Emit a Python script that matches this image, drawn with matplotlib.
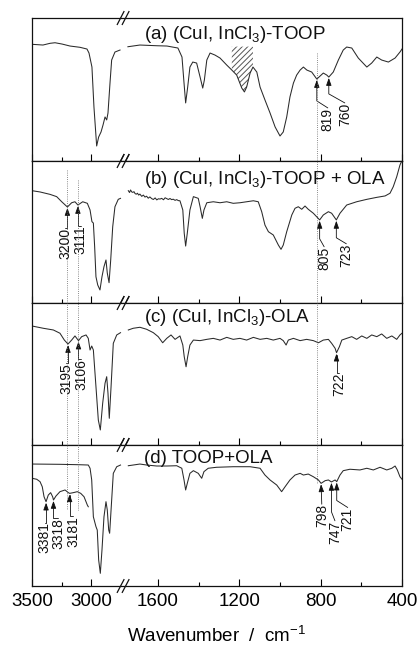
import numpy as np
import matplotlib
matplotlib.use("Agg")
import matplotlib.pyplot as plt
import matplotlib.transforms as mtransforms
from matplotlib.lines import Line2D
from matplotlib.ticker import FixedLocator, FixedFormatter, NullFormatter

plt.rcParams['font.family'] = ['Liberation Sans', 'DejaVu Sans']
plt.rcParams['mathtext.fontset'] = 'custom'
plt.rcParams['mathtext.rm'] = 'Liberation Sans'
plt.rcParams['hatch.linewidth'] = 0.7

# ---------------- spectra (wavenumber in cm-1, transmittance in a.u.) ----------------
# (a) (CuI, InCl3)-TOOP
A_HI_W = [3500, 3407, 3347, 3305, 3246, 3178, 3093, 3034, 3017, 2992, 2975, 2952, 2935,
          2915, 2898, 2881, 2867, 2856, 2839, 2825, 2797, 2754]
A_HI_T = [81.6, 81.1, 82.3, 82.7, 81.8, 80.4, 79.5, 78.3, 75.5, 65.7, 37.8, 10.5, 16.8,
          20.3, 25.2, 30.8, 28.7, 33.6, 54.5, 70.6, 76.2, 77.6]
A_LO_W = [1748, 1689, 1605, 1556, 1502, 1482, 1472, 1464, 1454, 1443, 1429, 1410, 1393,
          1380, 1372, 1360, 1344, 1320, 1295, 1262, 1237, 1213, 1188, 1175, 1164, 1147,
          1133, 1114, 1098, 1074, 1049, 1024, 1000, 984, 967, 951, 934, 918, 901, 885,
          868, 844, 819, 787, 770, 760, 738, 713, 689, 672, 647, 615, 573, 549, 524,
          500, 467, 434, 410, 400]
A_LO_T = [79.9, 81.1, 80.6, 80.4, 79.0, 72.7, 54.5, 40.6, 51.7, 65.7, 69.2, 68.5, 58.7,
          51.0, 56.6, 70.6, 75.5, 74.1, 72.0, 67.1, 63.6, 60.1, 51.0, 48.3, 51.7, 61.5,
          65.7, 62.2, 51.7, 42.7, 33.6, 23.8, 17.5, 20.3, 30.8, 44.8, 54.5, 60.1, 63.6,
          65.7, 63.6, 62.2, 57.3, 61.5, 60.1, 58.7, 62.2, 70.6, 77.6, 79.7, 79.0, 72.0,
          65.7, 68.5, 72.7, 70.6, 69.2, 72.0, 76.2, 78.3]
A_HATCH_RANGE = (1237, 1133)
A_HATCH_TOP = 80.0

# (b) (CuI, InCl3)-TOOP + OLA
B_HI_W = [3500, 3432, 3347, 3291, 3248, 3200, 3164, 3136, 3111, 3070, 3031, 3008, 2992,
          2980, 2969, 2958, 2943, 2924, 2907, 2890, 2873, 2862, 2847, 2833, 2816, 2797,
          2769, 2748]
B_HI_T = [79.1, 78.2, 76.5, 74.9, 71.3, 67.6, 70.6, 71.3, 69.0, 71.3, 70.2, 65.5, 57.3,
          56.3, 39.6, 18.5, 12.7, 9.2, 18.5, 25.6, 30.3, 21.1, 14.3, 30.3, 53.7, 67.8,
          73.0, 73.7]
B_LO_W = [1746, 1740, 1735, 1729, 1724, 1718, 1713, 1707, 1701, 1695, 1689, 1680, 1672,
          1664, 1656, 1648, 1640, 1631, 1623, 1614, 1606, 1598, 1590, 1582, 1573, 1565,
          1557, 1549, 1541, 1533, 1525, 1516, 1508, 1500, 1492, 1478, 1471, 1464, 1456,
          1443, 1426, 1402, 1393, 1382, 1374, 1360, 1328, 1295, 1262, 1230, 1197, 1164,
          1131, 1107, 1090, 1074, 1057, 1033, 1008, 995, 984, 967, 942, 926, 910, 893,
          877, 861, 836, 805, 787, 762, 746, 723, 705, 672, 623, 573, 524, 483, 459, 443,
          426, 410, 401]
B_LO_T = [79.1, 77.8, 79.6, 78.2, 77.9, 78.4, 77.1, 76.6, 77.3, 76.0, 76.7, 75.1, 76.0,
          74.6, 75.2, 73.8, 74.7, 73.5, 72.9, 74.0, 72.6, 73.4, 73.2, 73.7, 72.7, 74.1,
          73.5, 72.9, 73.6, 72.8, 73.1, 72.3, 72.8, 72.1, 72.0, 65.5, 49.1, 40.1, 49.1,
          65.5, 74.9, 73.7, 67.8, 59.6, 65.5, 70.6, 71.3, 70.6, 71.3, 70.2, 70.6, 71.3,
          72.0, 71.3, 64.3, 54.9, 50.2, 47.9, 40.8, 37.8, 40.8, 50.2, 62.0, 66.7, 67.8,
          66.0, 68.3, 66.0, 63.2, 58.5, 62.0, 64.3, 63.2, 58.5, 63.2, 69.0, 71.3, 73.0,
          74.4, 75.4, 77.3, 81.9, 88.9, 97.2, 100.0]

# (c) (CuI, InCl3)-OLA
C_HI_W = [3500, 3404, 3319, 3263, 3226, 3195, 3164, 3136, 3106, 3079, 3042, 3023, 3008,
          2994, 2980, 2958, 2938, 2921, 2901, 2881, 2867, 2856, 2845, 2830, 2811, 2782,
          2748]
C_HI_T = [83.8, 82.2, 81.0, 78.7, 73.9, 71.1, 73.9, 76.8, 73.5, 76.3, 77.5, 75.1, 66.9,
          69.7, 66.9, 41.1, 17.6, 10.6, 29.4, 43.5, 48.1, 36.4, 18.8, 41.1, 71.6, 77.5,
          79.1]
C_LO_W = [1746, 1722, 1689, 1656, 1623, 1599, 1577, 1557, 1536, 1516, 1492, 1478, 1471,
          1462, 1454, 1443, 1426, 1393, 1360, 1328, 1295, 1262, 1230, 1197, 1164, 1131,
          1098, 1065, 1033, 1000, 984, 970, 959, 934, 901, 869, 836, 811, 787, 762, 746,
          729, 722, 708, 696, 672, 647, 623, 598, 573, 549, 524, 500, 475, 450, 426, 410,
          400]
C_LO_T = [81.0, 82.2, 82.9, 81.5, 79.1, 76.3, 72.0, 75.1, 77.5, 74.4, 76.8, 70.4, 62.2,
          55.1, 62.2, 70.4, 73.9, 73.5, 74.4, 75.1, 73.9, 75.8, 74.4, 75.1, 73.9, 75.8,
          74.4, 75.1, 73.9, 75.1, 73.5, 70.4, 73.9, 75.1, 73.5, 74.4, 73.5, 72.0, 73.9,
          74.4, 71.6, 68.1, 65.0, 69.2, 73.9, 75.1, 76.3, 74.4, 76.8, 75.1, 77.5, 76.3,
          78.2, 75.1, 76.8, 74.4, 77.5, 78.7]

# (d) TOOP+OLA  (second trace: shifted high-wavenumber region)
D_HI_W = [3500, 3263, 3093, 3023, 3008, 2994, 2980, 2958, 2947, 2935, 2921, 2907, 2890,
          2873, 2862, 2850, 2842, 2830, 2811, 2782, 2748]
D_HI_T = [86.5, 86.3, 86.0, 85.8, 83.5, 75.2, 49.1, 42.1, 39.7, 18.4, 9.0, 25.5, 49.1,
          59.8, 53.9, 39.7, 37.4, 53.9, 79.9, 84.6, 85.8]
D_NH_W = [3500, 3460, 3432, 3413, 3398, 3381, 3362, 3342, 3325, 3318, 3297, 3263, 3220,
          3192, 3181, 3150, 3116, 3087, 3059, 3031, 3023]
D_NH_T = [76.4, 75.7, 74.0, 70.4, 63.3, 59.8, 64.5, 66.2, 63.3, 61.0, 63.8, 66.9, 68.1,
          66.2, 65.7, 66.2, 66.9, 65.7, 63.3, 57.4, 56.2]
D_LO_W = [1746, 1722, 1689, 1656, 1606, 1557, 1508, 1483, 1472, 1464, 1456, 1443, 1426,
          1402, 1393, 1385, 1374, 1353, 1312, 1230, 1147, 1098, 1074, 1049, 1016, 992,
          975, 951, 926, 901, 885, 861, 836, 811, 798, 778, 762, 747, 729, 721, 705, 689,
          656, 607, 573, 541, 508, 475, 450, 434, 423, 410, 400]
D_LO_T = [85.3, 85.8, 86.5, 85.8, 85.1, 85.1, 85.3, 83.5, 75.2, 68.1, 72.8, 79.9, 81.8,
          79.9, 78.0, 76.4, 81.1, 83.5, 84.2, 84.6, 84.6, 83.5, 78.7, 75.2, 71.6, 66.9,
          70.4, 75.2, 78.7, 79.9, 78.7, 79.4, 77.5, 75.2, 72.8, 74.7, 75.2, 73.8, 75.2,
          74.0, 78.7, 81.8, 82.8, 82.3, 83.5, 82.3, 84.2, 82.3, 83.5, 85.1, 82.3, 77.5,
          75.7]

PANEL_LABELS = ["(a) (CuI, InCl$_\\mathregular{3}$)-TOOP",
                "(b) (CuI, InCl$_\\mathregular{3}$)-TOOP + OLA",
                "(c) (CuI, InCl$_\\mathregular{3}$)-OLA",
                "(d) TOOP+OLA"]

# peak labels: (text, wavenumber, which trace, dx, text depth, corner depth) in pixels
PEAKS_A = [("819", 819, "lo", 11, 28, 21), ("760", 760, "lo", 16, 25, 16)]
PEAKS_B = [("3200", 3200, "hi", -2, 20, 20), ("3111", 3111, "hi", 3, 20, 20),
           ("805", 805, "lo", 4.5, 26, 18), ("723", 723, "lo", 10, 23, 17)]
PEAKS_C = [("3195", 3195, "hi", -1.5, 18, 18), ("3106", 3106, "hi", 3, 18, 18),
           ("722", 722, "lo", 2.5, 19, 19)]
PEAKS_D = [("3381", 3381, "nh", -1.5, 20, 20), ("3318", 3318, "nh", 4.5, 17, 17),
           ("3181", 3181, "nh", 3.5, 22, 22), ("798", 798, "lo", 0.7, 20, 20),
           ("747", 747, "lo", 3.5, 38, 29), ("721", 721, "lo", 11, 25, 18)]

# reference lines: (wavenumber, top px, bottom px)
GUIDES = [(3200, 170, 510), (3111, 180, 510), (819, 53, 483)]

MAJOR_TICKS = [3500, 3000, 1600, 1200, 800, 400]
MINOR_TICKS = [3250, 1400, 1000, 600]

# ---------------- broken wavenumber axis ----------------
BRK_W = [400.0, 1750.0, 2750.0, 3500.0]
BRK_P = [0.0, 274.5, 281.5, 370.0]
S_R = (BRK_P[1] - BRK_P[0]) / (BRK_W[1] - BRK_W[0])
S_L = (BRK_P[3] - BRK_P[2]) / (BRK_W[3] - BRK_W[2])


def fwd(w):
    w = np.asarray(w, dtype=float)
    out = np.interp(w, BRK_W, BRK_P)
    out = np.where(w < BRK_W[0], BRK_P[0] + (w - BRK_W[0]) * S_R, out)
    out = np.where(w > BRK_W[-1], BRK_P[-1] + (w - BRK_W[-1]) * S_L, out)
    return out


def inv(p):
    p = np.asarray(p, dtype=float)
    out = np.interp(p, BRK_P, BRK_W)
    out = np.where(p < BRK_P[0], BRK_W[0] + (p - BRK_P[0]) / S_R, out)
    out = np.where(p > BRK_P[-1], BRK_W[-1] + (p - BRK_P[-1]) / S_L, out)
    return out


W, H = 419, 648
fig = plt.figure(figsize=(W / 100, H / 100), dpi=100)
LINE = '#2a2a2a'

panels = [
    dict(lab=PANEL_LABELS[0], top=18, bot=161, lab_y=0.850,
         traces={"hi": (A_HI_W, A_HI_T), "lo": (A_LO_W, A_LO_T)}, peaks=PEAKS_A),
    dict(lab=PANEL_LABELS[1], top=161, bot=303, lab_y=0.838,
         traces={"hi": (B_HI_W, B_HI_T), "lo": (B_LO_W, B_LO_T)}, peaks=PEAKS_B),
    dict(lab=PANEL_LABELS[2], top=303, bot=445, lab_y=0.868,
         traces={"hi": (C_HI_W, C_HI_T), "lo": (C_LO_W, C_LO_T)}, peaks=PEAKS_C),
    dict(lab=PANEL_LABELS[3], top=445, bot=586, lab_y=0.870,
         traces={"hi": (D_HI_W, D_HI_T), "nh": (D_NH_W, D_NH_T), "lo": (D_LO_W, D_LO_T)},
         peaks=PEAKS_D),
]

X0, X1 = 32, 402
axes = []
for i, pn in enumerate(panels):
    ax = fig.add_axes([X0 / W, 1 - pn["bot"] / H, (X1 - X0) / W, (pn["bot"] - pn["top"]) / H])
    ax.set_xscale('function', functions=(fwd, inv))
    ax.set_xlim(3500, 400)
    ax.set_ylim(0, 100)
    for key, (wx, ty) in pn["traces"].items():
        ax.plot(wx, ty, color=LINE, lw=0.75, solid_joinstyle='round')
    ax.xaxis.set_major_locator(FixedLocator(MAJOR_TICKS))
    ax.xaxis.set_minor_locator(FixedLocator(MINOR_TICKS))
    ax.xaxis.set_minor_formatter(NullFormatter())
    last = i == len(panels) - 1
    if last:
        ax.xaxis.set_major_formatter(FixedFormatter([str(t) for t in MAJOR_TICKS]))
    ax.tick_params(axis='x', which='both', direction='in', top=False, bottom=True,
                   labelbottom=last, labelsize=13.5, pad=5, width=0.8)
    ax.tick_params(axis='x', which='major', length=5)
    ax.tick_params(axis='x', which='minor', length=3)
    ax.tick_params(axis='y', left=False, labelleft=False)
    for s in ax.spines.values():
        s.set_linewidth(0.9)
        s.set_color('#111111')
    ax.text(0.303, pn["lab_y"], pn["lab"], transform=ax.transAxes, fontsize=13.5,
            ha='left', va='baseline', color='#111111')

    # break marks on the bottom and top spines
    for yb in (0.0, 1.0):
        for xc in (0.2395, 0.2530):
            ax.plot([xc - 0.009, xc + 0.009], [yb - 0.045, yb + 0.045], color='#111111',
                    lw=0.9, transform=ax.transAxes, clip_on=False)

    # peak markers
    for txt, wpk, key, dx, tdep, cdep in pn["peaks"]:
        wx, ty = pn["traces"][key]
        yv = np.interp(wpk, wx[::-1], ty[::-1]) - 0.6
        if abs(tdep - cdep) < 0.5:
            angA = 180 if dx >= 0 else 0
        else:
            angA = np.degrees(np.arctan2(tdep - cdep, -dx))
        if abs(dx) < 1.0:
            conn = "arc3,rad=0"
        else:
            conn = f"angle,angleA={angA:.1f},angleB=90,rad=0"
        ax.annotate(txt, xy=(wpk, yv), xytext=(dx, -tdep), textcoords='offset pixels',
                    rotation=90, ha='center', va='top', fontsize=10, color='#111111',
                    arrowprops=dict(arrowstyle='-|>,head_length=0.45,head_width=0.16',
                                    connectionstyle=conn, relpos=(0.5, 1.0), patchA=None,
                                    shrinkA=0, shrinkB=0, color='#111111', lw=0.6))
    axes.append(ax)

# hatched band area in (a)
axA = axes[0]
wa = np.array(A_LO_W)
ta = np.array(A_LO_T)
sel = (wa <= A_HATCH_RANGE[0]) & (wa >= A_HATCH_RANGE[1])
axA.fill_between(wa[sel], ta[sel], A_HATCH_TOP, facecolor='none', edgecolor='#555555',
                 hatch='//////', linewidth=0)

# dotted guide lines spanning panels
tr = mtransforms.blended_transform_factory(axes[-1].transData, fig.transFigure)
for wg, ytop, ybot in GUIDES:
    fig.add_artist(Line2D([wg, wg], [1 - ytop / H, 1 - ybot / H], transform=tr,
                          color='#666666', lw=0.6, linestyle=(0, (1, 1.6))))

axes[-1].set_xlabel("Wavenumber  /  cm$^{\\mathregular{-1}}$", fontsize=13.5, labelpad=11)

fig.savefig("out.png", dpi=100)
